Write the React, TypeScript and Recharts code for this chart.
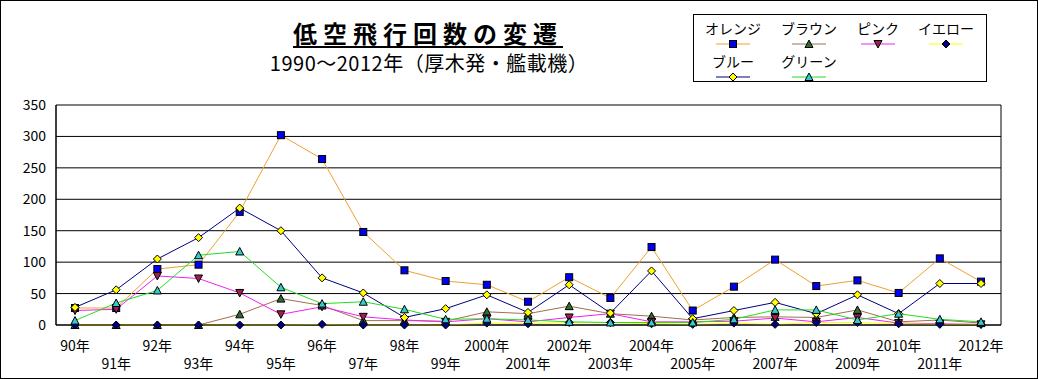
import { LineChart, Line, XAxis, YAxis, CartesianGrid } from 'recharts'

const YEARS = [
  '90年', '91年', '92年', '93年', '94年', '95年', '96年', '97年', '98年', '99年',
  '2000年', '2001年', '2002年', '2003年', '2004年', '2005年', '2006年', '2007年',
  '2008年', '2009年', '2010年', '2011年', '2012年',
]

// counts per year
const ORANGE = [27, 27, 89, 96, 180, 302, 264, 148, 87, 70, 64, 37, 76, 43, 124, 23, 61, 104, 62, 71, 51, 106, 69]
const BROWN = [0, 0, 0, 0, 17, 42, 31, 7, 7, 6, 21, 18, 30, 18, 14, 8, 12, 13, 12, 24, 5, 8, 3]
const PINK = [23, 25, 78, 74, 51, 17, 29, 13, 8, 5, 10, 5, 12, 18, 5, 5, 6, 11, 5, 12, 3, 2, 1]
const YELLOW = [0, 0, 0, 0, 0, 0, 1, 0, 0, 0, 3, 2, 4, 4, 2, 1, 3, 1, 4, 4, 2, 1, 1]
const BLUE = [28, 56, 105, 139, 186, 150, 75, 51, 12, 26, 48, 20, 64, 19, 86, 10, 23, 36, 18, 48, 18, 66, 66]
const GREEN = [7, 35, 55, 111, 117, 60, 34, 37, 25, 9, 10, 8, 5, 4, 4, 4, 9, 24, 24, 8, 18, 9, 5]

const Y_TICKS = [0, 50, 100, 150, 200, 250, 300, 350]

type Shape = 'square' | 'up' | 'down' | 'diamond'

const SERIES: { key: string; name: string; line: string; fill: string; shape: Shape; values: number[] }[] = [
  { key: 'orange', name: 'オレンジ', line: '#f0a030', fill: '#0000ee', shape: 'square', values: ORANGE },
  { key: 'brown', name: 'ブラウン', line: '#a07050', fill: '#2f6b2f', shape: 'up', values: BROWN },
  { key: 'pink', name: 'ピンク', line: '#ee22ee', fill: '#a0204a', shape: 'down', values: PINK },
  { key: 'yellow', name: 'イエロー', line: '#ffff00', fill: '#000080', shape: 'diamond', values: YELLOW },
  { key: 'blue', name: 'ブルー', line: '#000080', fill: '#ffff00', shape: 'diamond', values: BLUE },
  { key: 'green', name: 'グリーン', line: '#22dd22', fill: '#33cccc', shape: 'up', values: GREEN },
]

const data = YEARS.map((year, i) => {
  const row: Record<string, string | number> = { year }
  SERIES.forEach(s => { row[s.key] = s.values[i] })
  return row
})

const FONT = '"Noto Sans CJK JP", "Noto Sans", sans-serif'

function Marker({ cx, cy, shape, fill }: { cx: number; cy: number; shape: Shape; fill: string }) {
  const r = 3.5
  if (shape === 'square') {
    return <rect x={cx - r} y={cy - r} width={r * 2} height={r * 2} fill={fill} stroke="#000" strokeWidth={1} />
  }
  let pts = ''
  if (shape === 'up') pts = `${cx},${cy - 4} ${cx + 4},${cy + 3.5} ${cx - 4},${cy + 3.5}`
  if (shape === 'down') pts = `${cx},${cy + 4} ${cx + 4},${cy - 3.5} ${cx - 4},${cy - 3.5}`
  if (shape === 'diamond') pts = `${cx},${cy - 4} ${cx + 4},${cy} ${cx},${cy + 4} ${cx - 4},${cy}`
  return <polygon points={pts} fill={fill} stroke="#000" strokeWidth={1} />
}

function YearTick(props: any) {
  const { x, payload, index } = props
  return (
    <text x={x} y={index % 2 ? 363 : 345} textAnchor="middle" dominantBaseline="central"
      fontSize={14} fontFamily={FONT} fill="#000">
      {payload.value}
    </text>
  )
}

// legend entries: [text center x, row]
const LEGEND_POS = [[732, 0], [808, 0], [877, 0], [945, 0], [732, 1], [808, 1]]

function LegendBox() {
  return (
    <div style={{
      position: 'absolute', left: 692, top: 13, width: 294, height: 68,
      border: '1px solid #000', boxSizing: 'border-box', background: '#fff',
    }}>
      <svg width={294} height={68} style={{ position: 'absolute', left: -1, top: -1 }}>
        {SERIES.map((s, i) => {
          const [cx, row] = LEGEND_POS[i]
          const x = cx - 692
          const ty = row ? 47 : 14
          const my = row ? 63 : 30
          return (
            <g key={s.key}>
              <text x={x} y={ty} textAnchor="middle" dominantBaseline="central" fontSize={14} fontFamily={FONT} fill="#000">
                {s.name}
              </text>
              <line x1={x - 17} x2={x + 17} y1={my} y2={my} stroke={s.line} strokeWidth={1} />
              <Marker cx={x} cy={my} shape={s.shape} fill={s.fill} />
            </g>
          )
        })}
      </svg>
    </div>
  )
}

export default function App() {
  return (
    <div style={{
      position: 'relative', width: 1038, height: 379, boxSizing: 'border-box',
      border: '1px solid #000', background: '#fff', fontFamily: FONT, overflow: 'hidden',
    }}>
      <style>{'body{margin:0}'}</style>
      <div style={{
        position: 'absolute', left: 0, width: 854, top: 17, textAlign: 'center',
        fontSize: 24, fontWeight: 700, letterSpacing: 6, lineHeight: '30px',
        textDecoration: 'underline', textUnderlineOffset: 3, color: '#000',
      }}>
        低空飛行回数の変遷
      </div>
      <div style={{
        position: 'absolute', left: 0, width: 856, top: 49, textAlign: 'center',
        fontSize: 20, lineHeight: '26px', letterSpacing: 0.5, color: '#000',
      }}>
        1990～2012年（厚木発・艦載機）
      </div>
      <LegendBox />
      <div style={{ position: 'absolute', left: -1, top: -1 }}>
        <LineChart width={1038} height={379} data={data} margin={{ top: 105, right: 37, bottom: 4, left: 8 }}>
          <CartesianGrid vertical={true} verticalPoints={[56, 1001]} stroke="#000" strokeWidth={1} />
          <XAxis dataKey="year" height={50} interval={0} padding={{ left: 19, right: 20 }}
            axisLine={{ stroke: '#000' }} tickLine={false} tick={<YearTick />} />
          <YAxis width={48} domain={[0, 350]} ticks={Y_TICKS} interval={0}
            axisLine={{ stroke: '#000' }} tickLine={false} tickSize={0} tickMargin={10}
            tick={{ fontSize: 14, fill: '#000', fontFamily: FONT }} />
          {SERIES.map(s => (
            <Line key={s.key} type="linear" dataKey={s.key} name={s.name} stroke={s.line} strokeWidth={1}
              isAnimationActive={false} activeDot={false}
              dot={(p: any) => <Marker key={`${s.key}-${p.index}`} cx={p.cx} cy={p.cy} shape={s.shape} fill={s.fill} />} />
          ))}
        </LineChart>
      </div>
    </div>
  )
}
